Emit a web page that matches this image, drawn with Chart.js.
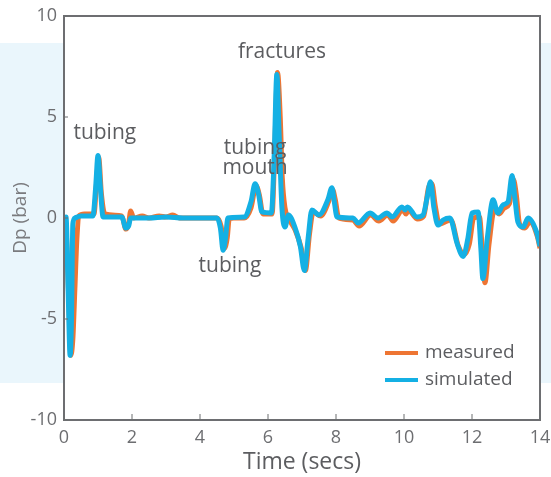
<!DOCTYPE html>
<html>
<head>
<meta charset="utf-8">
<script src="https://cdn.jsdelivr.net/npm/chart.js@4/dist/chart.umd.min.js"></script>
<style>
  html, body { margin: 0; padding: 0; background: #fff; }
  #band { position: absolute; left: 0; top: 43px; width: 551px; height: 340px; background: #eaf6fc; }
  #wrap { position: absolute; left: 0; top: 0; width: 551px; height: 477px; }
</style>
</head>
<body>
<div id="band"></div>
<div id="wrap"><canvas id="c" width="551" height="477"></canvas></div>
<script>
// values (time in secs, pressure in bar)
const simTime = [0, 0.06, 0.12, 0.18, 0.22, 0.26, 0.32, 0.5, 0.85, 0.93, 1.0, 1.07, 1.15, 1.7, 1.82, 1.9, 1.96, 2.5, 3.0, 3.5, 4.5,
  4.6, 4.68, 4.75, 4.82, 5.3, 5.5, 5.62, 5.72, 5.82, 6.1, 6.18, 6.26, 6.33, 6.41, 6.5, 6.6, 6.79, 6.95, 7.07, 7.18, 7.29, 7.5,
  7.76, 7.88, 7.95, 8.03, 8.5, 8.65, 9.0, 9.24, 9.5, 9.65, 9.94, 10.03, 10.1, 10.38, 10.56, 10.68, 10.78, 10.88, 11.0, 11.15,
  11.35, 11.56, 11.74, 11.88, 12.0, 12.18, 12.26, 12.32, 12.45, 12.62, 12.76, 12.91, 13.06, 13.18, 13.26, 13.35, 13.5, 13.65, 13.9, 14.0];
const simValues = [0, 0.05, -3.5, -6.8, -5.0, -0.3, 0, 0.1, 0.1, 1.5, 3.1, 1.5, 0.05, 0.05, -0.5, -0.4, 0, 0, 0.05, 0, 0,
  -0.5, -1.6, -1.0, 0, 0.05, 0.8, 1.7, 1.2, 0.3, 0.25, 3.0, 7.1, 4.0, 0.5, -0.45, 0.15, -0.45, -1.4, -2.6, -1.0, 0.4, 0.15,
  0.9, 1.5, 0.8, 0.05, 0, -0.25, 0.25, 0, 0.25, 0.05, 0.55, 0.4, 0.55, 0.05, 0.15, 1.0, 1.8, 0.5, -0.35, -0.1,
  0, -1.25, -1.9, -1.0, 0.25, 0.3, -1.5, -3.0, -1.0, 0.9, 0.25, 0.65, 0.8, 2.1, 1.0, -0.2, -0.45, 0, -0.7, -1.4];

const measTime = [0, 0.06, 0.14, 0.2, 0.26, 0.32, 0.38, 0.44, 0.6, 0.88, 0.96, 1.02, 1.1, 1.2, 1.7, 1.82, 1.9, 1.96, 2.05, 2.3,
  2.5, 2.8, 3.0, 3.2, 3.4, 4.5, 4.62, 4.72, 4.8, 4.86, 5.0, 5.3, 5.5, 5.65, 5.75, 5.85, 6.12, 6.2, 6.28, 6.36, 6.42, 6.5, 6.6,
  6.8, 6.98, 7.1, 7.22, 7.33, 7.55, 7.78, 7.9, 7.98, 8.08, 8.5, 8.68, 9.02, 9.26, 9.52, 9.68, 9.96, 10.06, 10.12, 10.4, 10.58,
  10.72, 10.82, 10.92, 11.04, 11.2, 11.38, 11.6, 11.78, 11.92, 12.05, 12.22, 12.3, 12.38, 12.5, 12.66, 12.8, 12.95, 13.1, 13.22,
  13.3, 13.4, 13.55, 13.7, 13.92, 14.0];
const measValues = [0, -0.5, -4.0, -6.8, -6.0, -3.5, -1.0, 0.1, 0.2, 0.2, 1.8, 3.0, 1.2, 0.2, 0.1, -0.55, -0.3, 0.35, 0, 0.1,
  0, 0.1, 0.05, 0.15, 0, 0, -0.4, -1.5, -1.0, -0.05, 0, 0, 0.5, 1.6, 1.1, 0.2, 0.2, 3.5, 7.2, 5.0, 2.0, 0.5, 0,
  -0.6, -1.5, -2.6, -0.8, 0.3, 0.1, 0.8, 1.4, 0.9, 0, -0.1, -0.4, 0.15, -0.15, 0.15, -0.15, 0.4, 0.2, 0.4, -0.05, 0.1,
  1.5, 1.7, 0.6, -0.3, -0.2, -0.1, -1.4, -1.8, -1.3, 0, 0.05, -1.5, -3.2, -1.3, 0.4, 0.2, 0.5, 0.7, 1.9,
  1.2, -0.3, -0.5, -0.2, -0.9, -1.5];

const xTicks = [0, 2, 4, 6, 8, 10, 12, 14];
const yTicks = [-10, -5, 0, 5, 10];
const seriesNames = ['measured', 'simulated'];
const seriesColors = ['#ee7533', '#14b0e4'];

// text labels placed at data coordinates
const notes = [
  { text: 'tubing', t: 1.2, v: 4.2 },
  { text: 'fractures', t: 6.41, v: 8.2 },
  { text: 'tubing', t: 5.62, v: 3.45 },
  { text: 'mouth', t: 5.62, v: 2.45 },
  { text: 'tubing', t: 4.88, v: -2.4 }
];

const grey = '#6d6e71';
const txt = '#5c5d60';
const FONT = "'Open Sans', 'Noto Sans', sans-serif";

const toPts = (ts, vs) => ts.map((t, i) => ({ x: t, y: vs[i] }));

const frame = {
  id: 'frame',
  beforeDraw(chart) {
    const { ctx, chartArea: a } = chart;
    ctx.save();
    ctx.fillStyle = '#ffffff';
    ctx.fillRect(a.left, a.top, a.right - a.left, a.bottom - a.top);
    ctx.restore();
  },
  afterDatasetsDraw(chart) {
    const { ctx, chartArea: a, scales } = chart;
    ctx.save();
    ctx.strokeStyle = grey;
    ctx.lineWidth = 2;
    ctx.strokeRect(a.left, a.top, a.right - a.left, a.bottom - a.top);
    // small inward ticks
    ctx.lineWidth = 1;
    xTicks.forEach(t => {
      const x = scales.x.getPixelForValue(t);
      ctx.beginPath(); ctx.moveTo(x, a.bottom); ctx.lineTo(x, a.bottom - 6); ctx.stroke();
    });
    yTicks.forEach(v => {
      const y = scales.y.getPixelForValue(v);
      ctx.beginPath(); ctx.moveTo(a.left, y); ctx.lineTo(a.left + 4, y); ctx.stroke();
    });
    // annotations
    ctx.fillStyle = txt;
    ctx.font = '21px ' + FONT;
    ctx.textAlign = 'center';
    ctx.textBaseline = 'middle';
    notes.forEach(n => {
      ctx.fillText(n.text, scales.x.getPixelForValue(n.t), scales.y.getPixelForValue(n.v));
    });
    // legend
    ctx.font = '19px ' + FONT;
    ctx.textAlign = 'left';
    seriesNames.forEach((name, i) => {
      const y = 353 + i * 27;
      ctx.strokeStyle = seriesColors[i];
      ctx.lineWidth = 4;
      ctx.beginPath(); ctx.moveTo(385, y); ctx.lineTo(418, y); ctx.stroke();
      ctx.fillText(name, 425, y);
    });
    ctx.restore();
  }
};

new Chart(document.getElementById('c'), {
  type: 'line',
  data: {
    datasets: [
      { label: seriesNames[0], data: toPts(measTime, measValues), borderColor: seriesColors[0], borderWidth: 5,
        pointRadius: 0, cubicInterpolationMode: 'monotone', order: 2 },
      { label: seriesNames[1], data: toPts(simTime, simValues), borderColor: seriesColors[1], borderWidth: 5,
        pointRadius: 0, cubicInterpolationMode: 'monotone', order: 1 }
    ]
  },
  options: {
    responsive: false,
    animation: false,
    layout: { padding: { top: 16, right: 11, left: 0, bottom: 0 } },
    plugins: { legend: { display: false }, tooltip: { enabled: false } },
    scales: {
      x: {
        type: 'linear', min: 0, max: 14,
        afterFit(s) { s.height = 57; s.paddingLeft = 0; s.paddingRight = 0; },
        afterBuildTicks(s) { s.ticks = xTicks.map(v => ({ value: v })); },
        grid: { display: false, drawTicks: false },
        border: { display: false },
        ticks: { color: grey, font: { family: FONT, size: 18 }, padding: 7, maxRotation: 0 },
        title: { display: true, text: 'Time (secs)', color: txt, font: { family: FONT, size: 23 }, padding: { top: 0, bottom: 1 } }
      },
      y: {
        min: -10, max: 10,
        afterFit(s) { s.width = 64; s.paddingTop = 0; s.paddingBottom = 0; },
        afterBuildTicks(s) { s.ticks = yTicks.map(v => ({ value: v })); },
        grid: { display: false, drawTicks: false },
        border: { display: false },
        ticks: { color: grey, font: { family: FONT, size: 18 }, padding: 7 },
        title: { display: true, text: 'Dp (bar)', color: '#7a7b7e', font: { family: FONT, size: 19 }, padding: { top: 9 } }
      }
    }
  },
  plugins: [frame]
});
</script>
</body>
</html>
